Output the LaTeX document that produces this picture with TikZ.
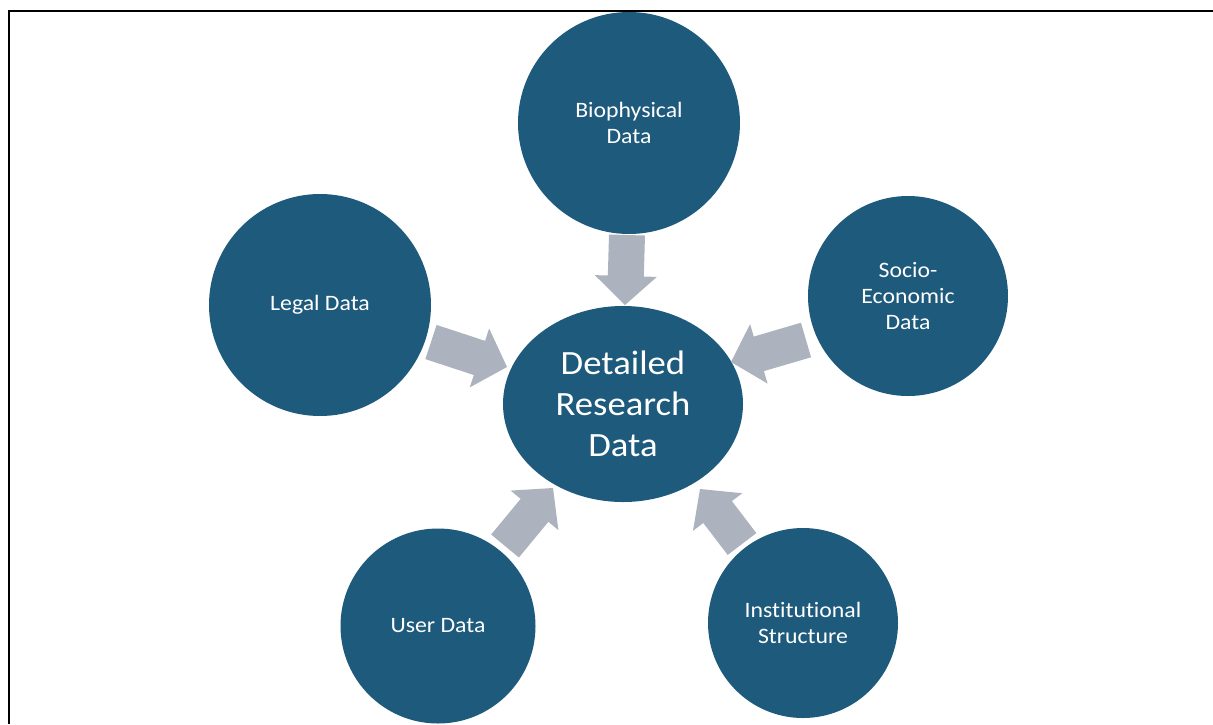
\documentclass[tikz,border=0pt]{standalone}
\usepackage{fontspec}
\setmainfont{Carlito}[Ligatures={NoCommon,NoRare}, FakeStretch=1.08]
\usetikzlibrary{calc,shapes.geometric}
\definecolor{bubble}{HTML}{1E5A7C}
\definecolor{arrowgray}{HTML}{ADB3BE}
\tikzset{
  bubble/.style={circle, fill=bubble, text=white, inner sep=0pt, align=center,
    font=\fontsize{22}{26}\selectfont},
  hub/.style={ellipse, fill=bubble, text=white, inner sep=0pt, align=center,
    minimum width=240pt, minimum height=196pt, font=\fontsize{34}{41}\selectfont},
  blockarrow/.style={fill=arrowgray, draw=none},
  frameline/.style={line width=2pt, black}
}
% block arrow from #1 to #2
\newcommand{\blockarr}[2]{%
  \coordinate (hb) at ($(#2)!29pt!(#1)$);
  \fill[blockarrow] ($(#1)!18pt!90:(#2)$) -- ($(hb)!18pt!90:(#2)$) -- ($(hb)!31pt!90:(#2)$)
    -- (#2) -- ($(hb)!31pt!-90:(#2)$) -- ($(hb)!18pt!-90:(#2)$) -- ($(#1)!18pt!-90:(#2)$) -- cycle;
}
\begin{document}
\begin{tikzpicture}[x=1pt,y=-1pt]
\useasboundingbox (0,0) rectangle (1213,724);
\fill[white] (0,0) rectangle (1213,724);
\coordinate (fa) at (8.5,724);
\coordinate (fb) at (8.5,10.5);
\coordinate (fc) at (1213,10.5);
\draw[frameline] (fa) -- (fb) -- (fc);

\node[hub] (hub) at (623,404) {Detailed\\Research\\Data};
\node[bubble, minimum size=222pt] (bio) at (629,123) {Biophysical\\Data};
\node[bubble, minimum size=222pt] (legal) at (320,305) {Legal Data};
\node[bubble, minimum size=200pt] (socio) at (908,296) {Socio-\\Economic\\Data};
\node[bubble, minimum size=195pt] (user) at (438,626) {User Data};
\node[bubble, minimum size=190pt] (inst) at (803,623) {Institutional\\Structure};

\coordinate (a1s) at (627,235); \coordinate (a1e) at (625,305);
\coordinate (a2s) at (431,342); \coordinate (a2e) at (507,367);
\coordinate (a3s) at (806,340); \coordinate (a3e) at (731,362);
\coordinate (a4s) at (505,546); \coordinate (a4e) at (553,488);
\coordinate (a5s) at (742,544); \coordinate (a5e) at (700,489);
\blockarr{a1s}{a1e}
\blockarr{a2s}{a2e}
\blockarr{a3s}{a3e}
\blockarr{a4s}{a4e}
\blockarr{a5s}{a5e}
\end{tikzpicture}
\end{document}
